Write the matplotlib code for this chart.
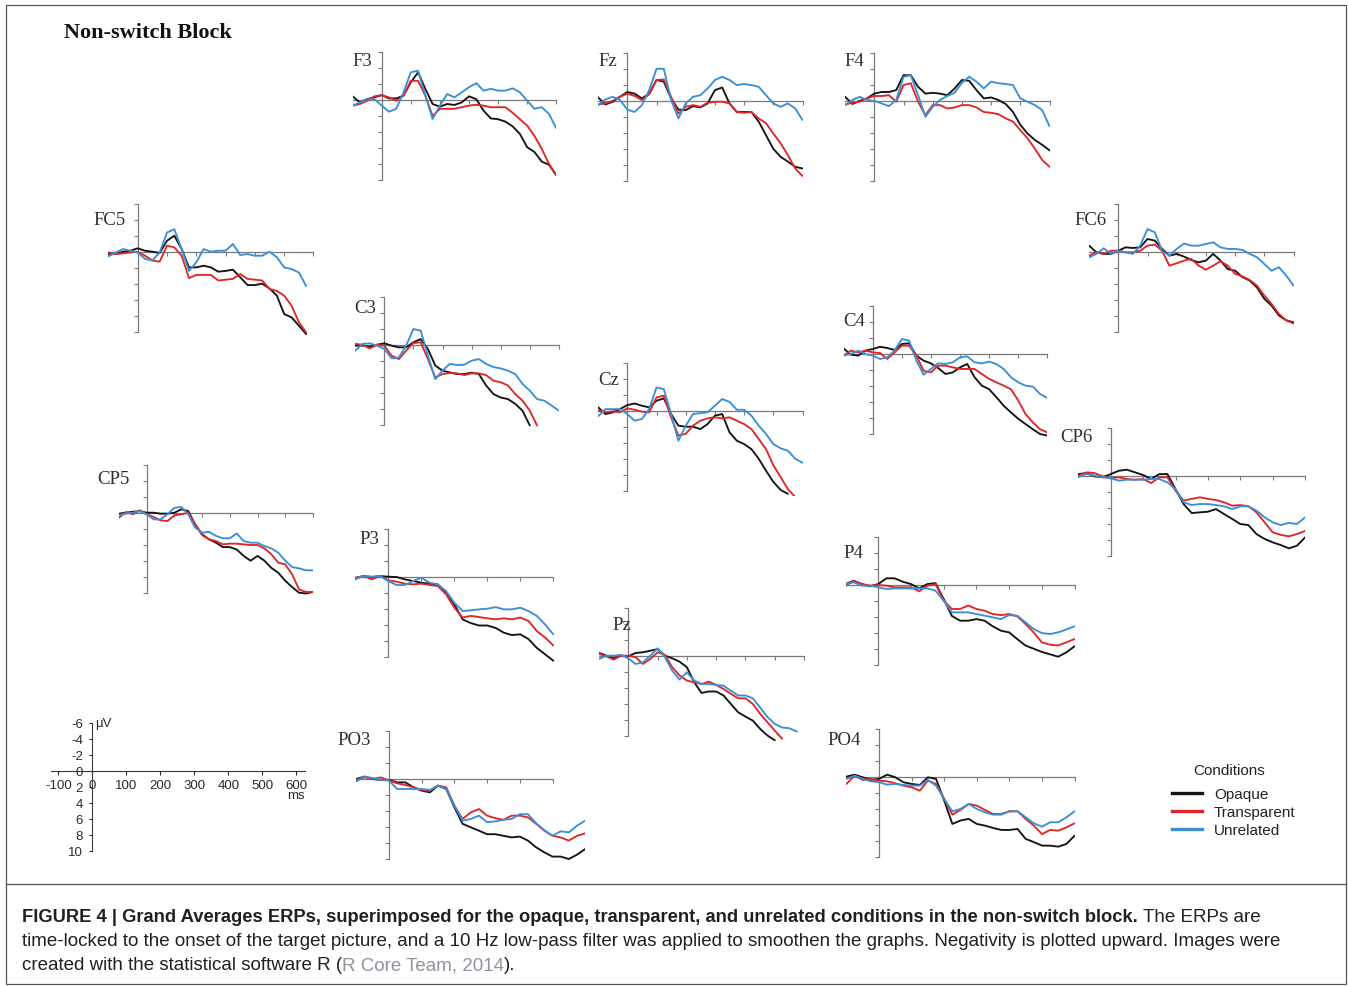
import numpy as np
import matplotlib
matplotlib.use("Agg")
import matplotlib.pyplot as plt
from matplotlib.lines import Line2D
from matplotlib.patches import Rectangle

W, H, DPI = 1348, 987, 100

# ---------------- data (µV, negative plotted upward), sampled every 25 ms from -100 ms ----------------
times = np.arange(-100, 601, 25)
conditions = ["Opaque", "Transparent", "Unrelated"]
cond_colors = ["#141414", "#e0262b", "#3a8fd5"]

F3_opaque = [-0.46, 0.3, -0.12, -0.33, -0.62, -0.2, -0.2, -0.54, -2.2, -3.46, -1.38, 0.5, 0.83, 0.5, 0.62, 0.3, -0.46, -0.1, 1.33, 2.3, 2.4, 2.7, 3.3, 4.25, 5.9, 6.5, 7.7, 8.1, 9.4]
F3_transparent = [0.7, 0.5, 0.1, -0.46, -0.6, -0.33, 0.1, -0.54, -2.4, -2.4, -0.54, 2.0, 1.1, 1.1, 1.1, 0.9, 0.7, 0.6, 0.7, 0.9, 0.9, 0.9, 1.6, 2.4, 3.2, 4.5, 6.1, 8.0, 9.4]
F3_unrelated = [0.7, 0.3, -0.1, -0.1, 0.7, 1.46, 1.1, -0.96, -3.46, -3.67, -0.54, 2.37, 0.7, -0.75, -0.33, -0.96, -1.6, -2.1, -1.17, -1.4, -1.17, -1.17, -1.46, -0.96, 0.1, 1.1, 0.9, 1.75, 3.54]

Fz_opaque = [-0.42, 0.46, 0.12, -0.5, -1.1, -0.9, -0.3, -0.9, -2.6, -2.4, -0.3, 1.1, 1.17, 0.67, 0.83, 0.33, -1.33, -1.67, 0.33, 1.4, 1.4, 1.4, 2.6, 4.3, 6.0, 7.0, 7.6, 8.25, 8.46]
Fz_transparent = [0.46, 0.33, 0.0, -0.5, -0.9, -0.6, -0.1, -0.83, -2.6, -2.67, -0.5, 1.6, 0.75, 0.54, 0.75, 0.25, 0.12, 0.12, 0.33, 1.4, 1.5, 1.4, 2.2, 2.8, 4.1, 5.3, 6.8, 8.46, 9.4]
Fz_unrelated = [0.54, -0.17, -0.5, -0.1, 1.1, 1.4, 0.54, -1.33, -4.0, -4.0, -0.1, 2.2, 0.33, -0.5, -0.7, -1.54, -2.6, -3.0, -2.6, -1.96, -2.1, -1.96, -1.75, -0.7, 0.33, 0.75, 0.33, 0.96, 2.4]

F4_opaque = [-0.5, 0.4, 0.0, -0.3, -0.9, -1.1, -1.1, -1.33, -3.2, -3.2, -1.75, -0.9, -1.0, -0.9, -0.7, -1.54, -2.6, -2.5, -1.33, -0.3, -0.42, -0.1, 0.4, 1.4, 3.0, 4.1, 4.9, 5.5, 6.2]
F4_transparent = [0.46, 0.25, 0.12, -0.3, -0.6, -0.6, -0.7, 0.12, -1.96, -2.2, 0.12, 1.8, 0.54, 0.54, 0.96, 0.83, 0.54, 0.54, 0.83, 1.4, 1.5, 1.67, 2.2, 2.6, 3.67, 4.7, 6.0, 7.4, 8.25]
F4_unrelated = [0.54, -0.1, -0.5, -0.1, 0.0, 0.33, 0.67, -0.1, -3.0, -3.2, -0.7, 2.0, 0.75, -0.1, -0.6, -1.0, -2.25, -3.0, -2.4, -1.54, -2.4, -2.2, -2.1, -1.96, -0.3, 0.12, 0.54, 1.17, 3.17]

FC5_opaque = [0.3, 0.3, 0.0, -0.12, -0.42, -0.12, 0.0, 0.17, -1.37, -2.0, -0.33, 1.96, 1.96, 1.75, 1.96, 2.5, 2.4, 2.25, 3.2, 4.17, 4.17, 4.0, 4.6, 5.5, 7.8, 8.2, 9.25, 10.3]
FC5_transparent = [0.1, 0.3, 0.2, 0.1, 0.0, 0.5, 1.1, 1.25, -0.75, -0.54, 0.5, 3.3, 2.9, 2.9, 2.9, 3.6, 3.5, 3.4, 2.8, 3.4, 3.5, 3.6, 4.67, 4.9, 5.5, 6.75, 8.8, 10.1]
FC5_unrelated = [0.58, 0.1, -0.33, -0.12, 0.1, 0.9, 1.1, 0.1, -2.4, -2.8, -0.33, 2.4, 1.33, -0.33, 0.0, -0.12, -0.12, -0.96, 0.42, 0.3, 0.5, 0.5, 0.0, 0.7, 1.96, 2.17, 2.6, 4.3]

FC6_opaque = [-0.83, 0.0, 0.2, 0.2, -0.2, -0.62, -0.54, -0.62, -1.67, -1.46, -0.42, 0.42, 0.2, 0.54, 0.96, 1.25, 1.04, 0.2, 1.04, 2.1, 2.3, 3.1, 3.54, 4.4, 5.8, 6.67, 7.9, 8.5, 8.75]
FC6_transparent = [0.42, 0.0, 0.2, -0.2, -0.2, 0.0, 0.0, -0.2, -0.83, -0.96, -0.2, 1.67, 1.37, 1.04, 0.83, 1.67, 2.17, 1.67, 1.12, 1.67, 2.7, 3.0, 3.46, 4.17, 5.4, 6.46, 7.7, 8.5, 8.9]
FC6_unrelated = [0.62, 0.2, -0.5, 0.2, -0.2, 0.0, 0.2, -0.83, -2.9, -2.5, -0.2, 0.42, -0.42, -1.1, -0.83, -0.83, -1.04, -1.25, -0.62, -0.42, -0.42, -0.3, 0.2, 0.62, 1.46, 2.3, 1.87, 2.9, 4.17]

C3_opaque = [0.12, 0.12, 0.25, 0.0, -0.17, 0.12, 0.33, 0.33, -0.3, -0.7, 0.54, 2.6, 3.25, 3.46, 3.67, 3.67, 3.5, 3.67, 5.1, 6.17, 6.6, 6.8, 7.4, 8.25, 10.1]
C3_transparent = [-0.1, 0.0, 0.46, 0.0, 0.12, 1.37, 1.8, 0.75, -0.2, -0.3, 1.8, 4.1, 3.67, 3.54, 3.58, 3.8, 3.58, 3.58, 3.8, 4.5, 4.7, 5.1, 6.17, 7.0, 8.25, 10.1]
C3_unrelated = [0.75, -0.1, -0.17, 0.12, 0.54, 1.7, 1.6, 0.12, -1.96, -1.75, 1.37, 4.3, 3.25, 2.4, 2.54, 2.5, 2.0, 1.8, 2.4, 2.8, 2.96, 3.25, 3.67, 4.9, 5.75, 6.8, 7.0, 7.6, 8.25]

C4_opaque = [-0.7, 0.08, 0.2, -0.42, -0.62, -0.9, -0.75, -0.5, -1.25, -1.33, 0.2, 0.83, 1.17, 1.75, 2.5, 2.3, 1.67, 1.25, 2.9, 3.96, 4.4, 5.4, 6.46, 7.3, 8.1, 8.75, 9.4, 10.0, 10.2]
C4_transparent = [0.2, -0.42, -0.2, -0.42, -0.2, -0.12, 0.62, -0.2, -1.04, -1.04, 0.2, 2.1, 2.3, 1.46, 1.46, 1.67, 1.87, 1.87, 1.87, 2.5, 3.1, 3.54, 3.96, 4.4, 5.8, 7.5, 8.54, 9.4, 9.8]
C4_unrelated = [0.2, 0.0, -0.42, 0.0, 0.2, 0.62, 0.42, -0.42, -1.87, -1.67, 0.83, 2.58, 1.87, 1.17, 1.25, 1.04, 0.42, 0.3, 1.04, 1.17, 0.96, 1.25, 1.87, 2.9, 3.54, 3.96, 4.08, 5.0, 5.5]

Cz_opaque = [-0.42, 0.42, 0.2, -0.2, -0.7, -0.9, -0.62, -0.42, -1.25, -1.54, 0.42, 1.87, 2.0, 2.0, 2.3, 1.67, 0.62, 0.42, 2.7, 3.75, 4.17, 4.8, 6.0, 7.5, 8.9, 9.9, 10.4]
Cz_transparent = [0.0, 0.2, 0.08, 0.2, -0.3, -0.12, 0.12, 0.2, -1.67, -1.87, 0.83, 3.1, 2.9, 1.87, 1.25, 0.96, 0.83, 0.96, 0.83, 1.25, 1.67, 2.3, 3.54, 4.8, 6.8, 8.3, 9.8, 10.8]
Cz_unrelated = [0.7, -0.2, -0.2, -0.2, 0.42, 1.25, 1.04, -0.2, -2.9, -2.7, 0.42, 3.75, 1.87, 0.42, 0.3, 0.2, -0.62, -1.46, -1.1, -0.12, -0.12, 0.62, 1.87, 2.9, 4.17, 4.7, 5.0, 6.0, 6.5]

CP5_opaque = [0.12, 0.0, -0.12, -0.2, 0.0, 0.0, 0.12, 0.12, 0.0, -0.42, -0.2, 1.46, 2.7, 3.33, 3.75, 4.3, 4.3, 4.6, 5.4, 6.0, 5.4, 6.0, 6.9, 7.5, 8.5, 9.3, 10.0, 10.1, 9.9]
CP5_transparent = [0.62, -0.08, 0.2, -0.3, 0.2, 0.54, 0.96, 1.04, 0.33, 0.2, 0.0, 1.46, 2.8, 3.33, 3.54, 3.96, 3.87, 3.87, 3.96, 4.04, 4.04, 4.46, 5.2, 6.25, 6.46, 7.7, 9.6, 9.9, 9.9]
CP5_unrelated = [0.3, 0.12, 0.0, -0.2, 0.2, 0.83, 0.83, 0.2, -0.62, -0.7, 0.2, 1.87, 2.5, 2.4, 2.9, 3.2, 3.2, 2.6, 3.54, 3.75, 3.75, 4.17, 4.46, 5.0, 6.0, 6.8, 6.96, 7.2, 7.2]

CP6_opaque = [-0.2, -0.33, 0.08, 0.2, -0.2, -0.62, -0.75, -0.42, -0.08, 0.42, -0.2, -0.2, 1.67, 3.54, 4.67, 4.58, 4.5, 4.17, 4.8, 5.4, 6.04, 6.17, 7.3, 7.9, 8.33, 8.67, 9.08, 8.75, 7.7]
CP6_transparent = [0.0, -0.42, -0.33, 0.08, 0.33, 0.2, 0.42, 0.5, 0.42, 0.92, 0.2, 0.2, 1.87, 3.12, 2.9, 2.7, 2.9, 3.04, 3.33, 3.75, 3.67, 3.83, 4.58, 5.83, 7.08, 7.4, 7.58, 7.3, 6.9]
CP6_unrelated = [0.2, -0.2, 0.0, 0.2, 0.33, 0.62, 0.5, 0.5, 0.5, 0.42, 0.42, 0.83, 1.67, 3.33, 3.67, 3.54, 3.54, 3.67, 3.83, 4.17, 3.83, 3.83, 4.37, 5.2, 5.83, 6.17, 5.9, 6.04, 5.2]

P3_opaque = [0.2, -0.08, 0.04, -0.08, 0.0, 0.04, 0.33, 0.54, 0.75, 0.87, 0.96, 2.0, 3.46, 5.33, 5.8, 6.1, 6.1, 6.4, 7.0, 7.3, 7.2, 7.8, 8.9, 9.7, 10.5]
P3_transparent = [0.12, -0.08, 0.33, -0.08, 0.46, 0.62, 0.87, 0.96, 0.87, 1.04, 1.17, 2.2, 3.87, 5.1, 4.9, 5.04, 5.2, 5.33, 5.2, 5.33, 5.1, 5.54, 6.8, 7.6, 8.6]
P3_unrelated = [0.33, -0.08, 0.0, -0.08, 0.54, 1.04, 1.04, 0.54, 0.12, 0.75, 0.96, 1.8, 3.25, 4.3, 4.2, 4.08, 4.0, 3.8, 4.08, 4.08, 3.87, 4.3, 4.9, 5.96, 7.2]

P4_opaque = [-0.08, -0.5, -0.08, 0.2, -0.08, -0.8, -0.8, -0.37, -0.08, 0.46, -0.08, -0.2, 1.8, 3.9, 4.5, 4.5, 4.3, 4.5, 5.2, 5.75, 5.96, 6.8, 7.6, 8.0, 8.4, 8.7, 9.0, 8.46, 7.7]
P4_transparent = [0.12, -0.5, -0.08, 0.12, 0.04, 0.12, 0.33, 0.33, 0.33, 0.83, 0.12, -0.08, 2.0, 3.04, 3.04, 2.6, 3.04, 3.25, 3.67, 3.8, 3.67, 3.96, 4.9, 5.96, 7.2, 7.5, 7.6, 7.2, 6.8]
P4_unrelated = [-0.08, -0.3, 0.12, 0.12, 0.33, 0.54, 0.46, 0.46, 0.46, 0.46, 0.46, 0.75, 2.0, 3.46, 3.46, 3.46, 3.67, 3.87, 4.08, 4.3, 3.8, 3.87, 4.7, 5.54, 6.04, 6.17, 5.96, 5.6, 5.2]

Pz_opaque = [-0.42, -0.08, 0.25, -0.08, 0.0, -0.42, -0.5, -0.7, -0.9, -0.08, 0.25, 0.67, 1.37, 3.25, 4.58, 4.4, 4.4, 4.9, 5.96, 7.0, 7.54, 8.04, 9.08, 9.9, 10.5]
Pz_transparent = [-0.3, 0.0, 0.42, -0.08, -0.08, 0.12, 0.96, 0.33, -0.5, -0.17, 1.37, 2.4, 3.04, 3.25, 3.46, 3.17, 3.58, 4.08, 4.7, 5.25, 5.25, 5.96, 7.2, 8.25, 9.3, 10.3]
Pz_unrelated = [0.33, -0.08, -0.08, -0.17, 0.25, 0.96, 0.75, -0.08, -1.0, 0.12, 1.8, 2.9, 2.0, 3.04, 3.46, 3.46, 3.58, 3.67, 4.3, 4.9, 4.9, 5.25, 6.4, 7.6, 8.46, 8.9, 9.0, 9.4]

PO3_opaque = [0.0, -0.3, 0.0, 0.12, 0.12, 0.42, 0.42, 1.04, 1.46, 1.67, 0.83, 1.25, 3.54, 5.6, 6.04, 6.46, 6.9, 6.9, 7.1, 7.3, 7.2, 7.7, 8.54, 9.17, 9.7, 9.7, 10.0, 9.46, 8.75]
PO3_transparent = [0.12, -0.2, 0.0, -0.2, 0.2, 0.54, 0.75, 1.04, 1.37, 1.46, 0.83, 1.04, 3.33, 5.0, 4.17, 3.75, 4.58, 4.9, 5.1, 4.58, 4.58, 4.8, 5.6, 6.46, 7.1, 7.3, 7.7, 7.1, 6.8]
PO3_unrelated = [0.3, -0.3, -0.12, 0.12, 0.2, 1.25, 1.25, 1.25, 1.25, 1.37, 0.83, 1.25, 3.33, 5.2, 5.0, 4.58, 5.4, 5.3, 5.1, 5.0, 4.4, 4.4, 5.54, 6.4, 7.1, 6.54, 6.67, 5.83, 5.2]

PO4_opaque = [-0.08, -0.33, 0.0, 0.33, 0.2, -0.33, 0.0, 0.62, 0.83, 0.96, 0.0, 0.2, 2.9, 5.83, 5.4, 5.2, 5.83, 6.04, 6.33, 6.58, 6.58, 6.46, 7.7, 8.1, 8.54, 8.54, 8.67, 8.33, 7.3]
PO4_transparent = [0.83, -0.2, 0.33, 0.2, 0.42, 0.5, 0.75, 1.04, 1.25, 1.67, 0.42, 0.83, 2.7, 4.67, 4.08, 3.33, 3.54, 4.08, 4.58, 4.58, 4.25, 4.25, 5.2, 6.04, 7.1, 6.58, 6.67, 6.25, 5.75]
PO4_unrelated = [0.2, -0.2, 0.2, 0.5, 0.62, 0.92, 0.83, 0.96, 1.04, 1.04, 0.33, 1.04, 2.7, 4.25, 3.96, 3.33, 3.96, 4.37, 4.67, 4.67, 4.25, 4.25, 5.0, 5.75, 6.17, 5.62, 5.62, 5.0, 4.25]

electrodes = {
    "F3": (F3_opaque, F3_transparent, F3_unrelated),
    "Fz": (Fz_opaque, Fz_transparent, Fz_unrelated),
    "F4": (F4_opaque, F4_transparent, F4_unrelated),
    "FC5": (FC5_opaque, FC5_transparent, FC5_unrelated),
    "FC6": (FC6_opaque, FC6_transparent, FC6_unrelated),
    "C3": (C3_opaque, C3_transparent, C3_unrelated),
    "C4": (C4_opaque, C4_transparent, C4_unrelated),
    "Cz": (Cz_opaque, Cz_transparent, Cz_unrelated),
    "CP5": (CP5_opaque, CP5_transparent, CP5_unrelated),
    "CP6": (CP6_opaque, CP6_transparent, CP6_unrelated),
    "P3": (P3_opaque, P3_transparent, P3_unrelated),
    "P4": (P4_opaque, P4_transparent, P4_unrelated),
    "Pz": (Pz_opaque, Pz_transparent, Pz_unrelated),
    "PO3": (PO3_opaque, PO3_transparent, PO3_unrelated),
    "PO4": (PO4_opaque, PO4_transparent, PO4_unrelated),
}

scale_xticks = [-100, 0, 100, 200, 300, 400, 500, 600]
scale_yticks = [-6, -4, -2, 0, 2, 4, 6, 8, 10]

# ---------------- layout (pixels) ----------------
# name: (x px of 0 ms, px per 100 ms, y px of 0 µV, end of time axis line in ms, label x, label y)
layout = {
    "F3": (381.7, 29.1, 101.0, 600, 362.5, 61.5),
    "Fz": (627.3, 29.2, 101.8, 600, 607.5, 61.5),
    "F4": (874.3, 29.2, 101.8, 600, 854, 61.5),
    "FC5": (137.7, 29.3, 252.7, 600, 110, 220.5),
    "FC6": (1118.3, 29.2, 253.3, 600, 1090.5, 220.5),
    "C3": (384.3, 29.1, 345.7, 600, 365.5, 308.5),
    "C4": (872.7, 29.1, 355.0, 600, 854, 321.5),
    "Cz": (627.3, 29.2, 411.7, 600, 608.5, 380.5),
    "CP5": (146.7, 27.7, 513.7, 600, 113, 480),
    "CP6": (1110.7, 32.4, 476.7, 600, 1076.5, 437.5),
    "P3": (388.3, 33.0, 577.7, 500, 369, 539.5),
    "P4": (878.3, 32.7, 585.7, 600, 853, 553.5),
    "Pz": (628.3, 29.3, 657.3, 600, 621.5, 625.5),
    "PO3": (389.0, 32.7, 780.0, 500, 354.5, 740.5),
    "PO4": (879.0, 32.6, 778.3, 600, 844.5, 740.5),
}
PX_PER_UV = 8.0
Y_TOP, Y_BOT = -6.6, 10.7
AXIS_COLOR = "#7a7a7a"
SERIF = ["Liberation Serif", "DejaVu Serif"]
SANS = ["Liberation Sans", "DejaVu Sans"]

fig = plt.figure(figsize=(W / DPI, H / DPI), dpi=DPI)
fig.patch.set_facecolor("white")


def px_axes(left, top, width, height):
    return fig.add_axes([left / W, 1 - (top + height) / H, width / W, height / H])


def fx(x):
    return x / W


def fy(y):
    return 1 - y / H


for name, series in electrodes.items():
    x0, s, zy, xend, lx, ly = layout[name]
    left = x0 - s
    top = zy + Y_TOP * PX_PER_UV
    ax = px_axes(left, top, 7 * s, (Y_BOT - Y_TOP) * PX_PER_UV)
    ax.set_xlim(-100, 600)
    ax.set_ylim(Y_BOT, Y_TOP)
    ax.patch.set_alpha(0)
    for vals, col in zip(series, cond_colors):
        ax.plot(times[:len(vals)], vals, color=col, lw=1.35, zorder=3,
                solid_joinstyle="round", solid_capstyle="round")
    for sp in ("top", "right"):
        ax.spines[sp].set_visible(False)
    ax.spines["left"].set_position(("data", 0))
    ax.spines["left"].set_bounds(-6, 10)
    ax.spines["bottom"].set_position(("data", 0))
    ax.spines["bottom"].set_bounds(-100, xend)
    for sp in ("left", "bottom"):
        ax.spines[sp].set_color(AXIS_COLOR)
        ax.spines[sp].set_linewidth(0.9)
    ax.set_xticks(np.arange(0, xend + 1, 100))
    ax.set_yticks(np.arange(-6, 11, 2))
    ax.tick_params(axis="both", direction="out", length=2.6, width=0.8, color=AXIS_COLOR,
                   labelbottom=False, labelleft=False)
    fig.text(fx(lx), fy(ly), name, ha="center", va="center", family=SERIF,
             fontsize=13.5, color="#2e2e2e")

# ---------------- scale panel ----------------
sx0, ss, szy = 92.3, 34.0, 771.5
ax = px_axes(sx0 - 1.4 * ss, szy + Y_TOP * PX_PER_UV, 7.9 * ss, (Y_BOT - Y_TOP) * PX_PER_UV)
ax.set_xlim(-140, 650)
ax.set_ylim(Y_BOT, Y_TOP)
ax.patch.set_alpha(0)
for sp in ("top", "right"):
    ax.spines[sp].set_visible(False)
ax.spines["left"].set_position(("data", 0))
ax.spines["left"].set_bounds(-6, 10)
ax.spines["bottom"].set_position(("data", 0))
ax.spines["bottom"].set_bounds(-122, 627)
for sp in ("left", "bottom"):
    ax.spines[sp].set_color("#3a3a3a")
    ax.spines[sp].set_linewidth(0.8)
ax.set_xticks(scale_xticks)
ax.set_xticklabels([str(v) for v in scale_xticks])
ax.set_yticks(scale_yticks)
ax.set_yticklabels([str(v) for v in scale_yticks])
ax.tick_params(axis="x", direction="out", length=3, width=0.8, pad=3, colors="#2a2a2a",
               labelsize=9.5)
ax.tick_params(axis="y", direction="out", length=2.3, width=0.8, pad=4.5, colors="#2a2a2a",
               labelsize=9.5)
for lab in ax.get_xticklabels() + ax.get_yticklabels():
    lab.set_family(SANS)
ax.text(8, -6.0, "µV", ha="left", va="center", fontsize=9.5, family=SANS, color="#2a2a2a")
ax.text(600, 3.1, "ms", ha="center", va="center", fontsize=9.5, family=SANS, color="#2a2a2a")

# ---------------- legend ----------------
fig.text(fx(1229.5), fy(771), "Conditions", ha="center", va="center", family=SANS,
         fontsize=11, color="#222222")
for i, (cond, col) in enumerate(zip(conditions, cond_colors)):
    yy = 794 + 18 * i
    fig.add_artist(Line2D([fx(1172), fx(1202)], [fy(yy), fy(yy)], color=col, lw=2.4))
    fig.text(fx(1214), fy(yy + 1.5), cond, ha="left", va="center", family=SANS,
             fontsize=11, color="#222222")

# ---------------- title ----------------
fig.text(fx(64), fy(33), "Non-switch Block", ha="left", va="center", family=SERIF,
         fontsize=16, fontweight="bold", color="#111111")

# ---------------- frame ----------------
fig.add_artist(Rectangle((fx(5.5), fy(984.5)), (1340) / W, (979) / H, fill=False,
                         edgecolor="#555555", lw=0.9, transform=fig.transFigure))
fig.add_artist(Line2D([fx(5.5), fx(1345.5)], [fy(884.5), fy(884.5)], color="#555555", lw=0.9))

# ---------------- caption ----------------
renderer = fig.canvas.get_renderer()
cap_color = "#231f20"
line1_bold = ("FIGURE 4 | Grand Averages ERPs, superimposed for the opaque, transparent, "
              "and unrelated conditions in the non-switch block.")
line1_rest = "The ERPs are"
line2 = ("time-locked to the onset of the target picture, and a 10 Hz low-pass filter was "
         "applied to smoothen the graphs. Negativity is plotted upward. Images were")
line3_a = "created with the statistical software R ("
line3_b = "R Core Team, 2014"
line3_c = ")."


def fit_size(txt, target, **kw):
    probe = fig.text(0, 0, txt, fontsize=12, family=SANS, **kw)
    w = probe.get_window_extent(renderer).width
    probe.remove()
    return 12 * target / w


cfs = fit_size(line2, 1261.0)
bfs = fit_size(line1_bold, 1115.0, fontweight="bold")
space_px = 0.278 * cfs * DPI / 72.0


def put(x, y, txt, size, **kw):
    t = fig.text(fx(x), fy(y), txt, ha="left", va="center", family=SANS, fontsize=size,
                 color=kw.pop("color", cap_color), **kw)
    return t.get_window_extent(renderer).x1


x1 = put(22, 918, line1_bold, bfs, fontweight="bold")
put(x1 + space_px, 918, line1_rest, cfs)
put(22, 942, line2, cfs)
x1 = put(22, 966, line3_a, cfs)
x1 = put(x1, 966, line3_b, cfs, color="#8e949c")
put(x1, 966, line3_c, cfs)

fig.savefig("out.png", dpi=DPI, facecolor="white")
